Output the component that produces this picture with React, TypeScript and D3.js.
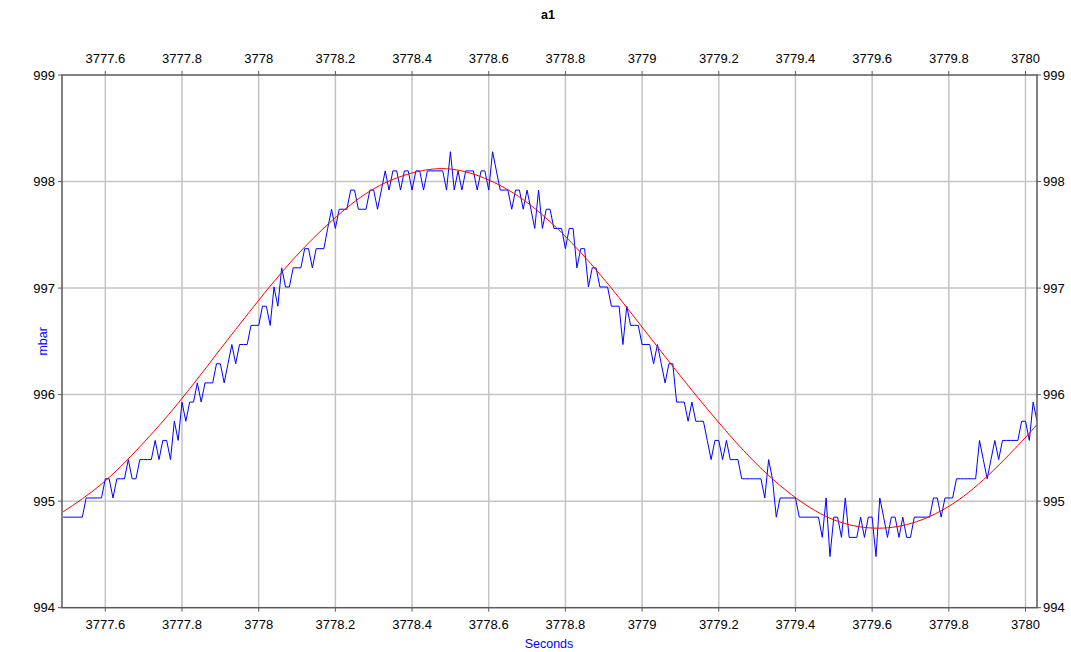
import React from "react";
import * as d3 from "d3";

const TITLE = "a1";
const X_LABEL = "Seconds";
const Y_LABEL = "mbar";

const X_DOMAIN: [number, number] = [3777.487, 3780.03];
const Y_DOMAIN: [number, number] = [994, 999];

const X_TICKS = [3777.6, 3777.8, 3778, 3778.2, 3778.4, 3778.6, 3778.8, 3779, 3779.2, 3779.4, 3779.6, 3779.8, 3780];
const Y_TICKS = [994, 995, 996, 997, 998, 999];

// measured pressure, one sample every 0.01 s starting at SAMPLE_START
const SAMPLE_START = 3777.49;
const SAMPLE_STEP = 0.01;
const MEASURED = [
  994.85, 994.85, 994.85, 994.85, 994.85, 994.85, 995.03, 995.03, 995.03, 995.03,
  995.03, 995.21, 995.21, 995.03, 995.21, 995.21, 995.21, 995.39, 995.21, 995.21,
  995.39, 995.39, 995.39, 995.39, 995.57, 995.39, 995.57, 995.57, 995.39, 995.75,
  995.57, 995.93, 995.75, 995.93, 995.93, 996.11, 995.93, 996.11, 996.11, 996.11,
  996.29, 996.29, 996.11, 996.29, 996.47, 996.29, 996.47, 996.47, 996.47, 996.65,
  996.65, 996.65, 996.83, 996.83, 996.65, 997.01, 996.83, 997.19, 997.01, 997.01,
  997.19, 997.19, 997.19, 997.37, 997.37, 997.19, 997.37, 997.37, 997.37, 997.56,
  997.74, 997.56, 997.74, 997.74, 997.74, 997.92, 997.92, 997.74, 997.74, 997.74,
  997.92, 997.92, 997.74, 997.92, 998.10, 997.92, 998.10, 998.10, 997.92, 998.10,
  998.10, 997.92, 998.10, 998.10, 997.92, 998.10, 998.10, 998.10, 998.10, 998.10,
  997.92, 998.28, 997.92, 998.10, 997.92, 998.10, 998.10, 998.10, 997.92, 998.10,
  998.10, 997.92, 998.28, 998.10, 997.92, 997.92, 997.92, 997.74, 997.92, 997.92,
  997.74, 997.92, 997.74, 997.56, 997.92, 997.56, 997.74, 997.74, 997.56, 997.56,
  997.56, 997.37, 997.56, 997.56, 997.19, 997.37, 997.37, 997.01, 997.19, 997.19,
  997.01, 997.01, 997.01, 996.83, 996.83, 996.83, 996.47, 996.83, 996.65, 996.65,
  996.65, 996.47, 996.47, 996.47, 996.29, 996.47, 996.29, 996.11, 996.29, 996.29,
  995.93, 995.93, 995.93, 995.75, 995.93, 995.75, 995.75, 995.75, 995.57, 995.39,
  995.57, 995.57, 995.39, 995.57, 995.39, 995.39, 995.39, 995.21, 995.21, 995.21,
  995.21, 995.21, 995.21, 995.03, 995.39, 995.21, 994.85, 995.03, 995.03, 995.03,
  995.03, 995.03, 994.85, 994.85, 994.85, 994.85, 994.85, 994.85, 994.66, 995.03,
  994.48, 994.85, 994.85, 994.66, 995.03, 994.66, 994.66, 994.66, 994.85, 994.66,
  994.85, 994.85, 994.48, 995.03, 994.85, 994.66, 994.85, 994.85, 994.66, 994.85,
  994.66, 994.66, 994.85, 994.85, 994.85, 994.85, 994.85, 995.03, 995.03, 994.85,
  995.03, 995.03, 995.03, 995.21, 995.21, 995.21, 995.21, 995.21, 995.21, 995.57,
  995.39, 995.21, 995.39, 995.57, 995.39, 995.57, 995.57, 995.57, 995.57, 995.57,
  995.75, 995.75, 995.57, 995.93, 995.75,
];

// fitted curve, read at 0.1 s intervals
const FIT_T = [
  3777.49, 3777.59, 3777.69, 3777.79, 3777.89, 3777.99, 3778.09, 3778.19, 3778.29, 3778.39,
  3778.49, 3778.59, 3778.69, 3778.79, 3778.89, 3778.99, 3779.09, 3779.19, 3779.29, 3779.39,
  3779.49, 3779.59, 3779.69, 3779.79, 3779.89, 3779.99, 3780.03,
];
const FIT_V = [
  994.90, 995.16, 995.51, 995.92, 996.38, 996.84, 997.27, 997.63, 997.91, 998.07,
  998.12, 998.03, 997.83, 997.52, 997.13, 996.68, 996.22, 995.78, 995.38, 995.06,
  994.84, 994.75, 994.78, 994.93, 995.20, 995.56, 995.72,
];

const W = 1071;
const H = 652;
const L = 62;
const R = 1037;
const T = 75;
const B = 607.7;

const FONT = "'Liberation Sans', Arial, sans-serif";

export default function App() {
  const x = d3.scaleLinear().domain(X_DOMAIN).range([L, R]);
  const y = d3.scaleLinear().domain(Y_DOMAIN).range([B, T]);

  const measured = MEASURED.map((v, i) => ({ t: SAMPLE_START + i * SAMPLE_STEP, v }));
  const fit = FIT_T.map((t, i) => ({ t, v: FIT_V[i] }));

  const line = d3
    .line<{ t: number; v: number }>()
    .x((d) => x(d.t))
    .y((d) => y(d.v));
  const smooth = d3
    .line<{ t: number; v: number }>()
    .x((d) => x(d.t))
    .y((d) => y(d.v))
    .curve(d3.curveNatural);

  const fmt = (v: number) => String(+v.toFixed(1));
  const gridColor = "#c4c4c4";
  const axisColor = "#5a5a5a";

  return (
    <div style={{ position: "absolute", left: 0, top: 0 }}>
      <svg width={W} height={H} style={{ display: "block", background: "#fff" }}>
        <defs>
          <clipPath id="plotclip">
            <rect x={L} y={T} width={R - L} height={B - T} />
          </clipPath>
        </defs>
        <text x={548} y={19} textAnchor="middle" fontFamily={FONT} fontSize={12.5} fontWeight="bold" fill="#000">
          {TITLE}
        </text>

        {/* grid */}
        {X_TICKS.map((t) => (
          <line key={"gx" + t} x1={x(t)} x2={x(t)} y1={T} y2={B} stroke={gridColor} strokeWidth={1.5} />
        ))}
        {Y_TICKS.filter((v) => v > Y_DOMAIN[0] && v < Y_DOMAIN[1]).map((v) => (
          <line key={"gy" + v} x1={L} x2={R} y1={y(v)} y2={y(v)} stroke={gridColor} strokeWidth={1.5} />
        ))}

        {/* data */}
        <g clipPath="url(#plotclip)">
          <path d={line(measured) || ""} fill="none" stroke="#0000ff" strokeWidth={1} />
          <path d={smooth(fit) || ""} fill="none" stroke="#ff0000" strokeWidth={1} />
        </g>

        {/* frame */}
        <rect x={L} y={T} width={R - L} height={B - T} fill="none" stroke={axisColor} strokeWidth={1.5} />

        {/* x ticks bottom & top */}
        {X_TICKS.map((t) => (
          <g key={"xt" + t}>
            <line x1={x(t)} x2={x(t)} y1={B} y2={B + 4} stroke={axisColor} strokeWidth={1} />
            <line x1={x(t)} x2={x(t)} y1={T} y2={T - 4} stroke={axisColor} strokeWidth={1} />
            <text x={x(t)} y={629} textAnchor="middle" fontFamily={FONT} fontSize={13} fill="#000">
              {fmt(t)}
            </text>
            <text x={x(t)} y={63} textAnchor="middle" fontFamily={FONT} fontSize={13} fill="#000">
              {fmt(t)}
            </text>
          </g>
        ))}

        {/* y ticks left & right */}
        {Y_TICKS.map((v) => (
          <g key={"yt" + v}>
            <line x1={L - 4} x2={L} y1={y(v)} y2={y(v)} stroke={axisColor} strokeWidth={1} />
            <line x1={R} x2={R + 4} y1={y(v)} y2={y(v)} stroke={axisColor} strokeWidth={1} />
            <text x={55} y={y(v)} dy="0.35em" textAnchor="end" fontFamily={FONT} fontSize={13} fill="#000">
              {v}
            </text>
            <text x={1043} y={y(v)} dy="0.35em" textAnchor="start" fontFamily={FONT} fontSize={13} fill="#000">
              {v}
            </text>
          </g>
        ))}

        <text x={549} y={648} textAnchor="middle" fontFamily={FONT} fontSize={12.5} fill="#0000ff">
          {X_LABEL}
        </text>
        <text
          transform={`translate(47, ${(T + B) / 2}) rotate(-90)`}
          textAnchor="middle"
          fontFamily={FONT}
          fontSize={12.5}
          fill="#0000ff"
        >
          {Y_LABEL}
        </text>
      </svg>
    </div>
  );
}
